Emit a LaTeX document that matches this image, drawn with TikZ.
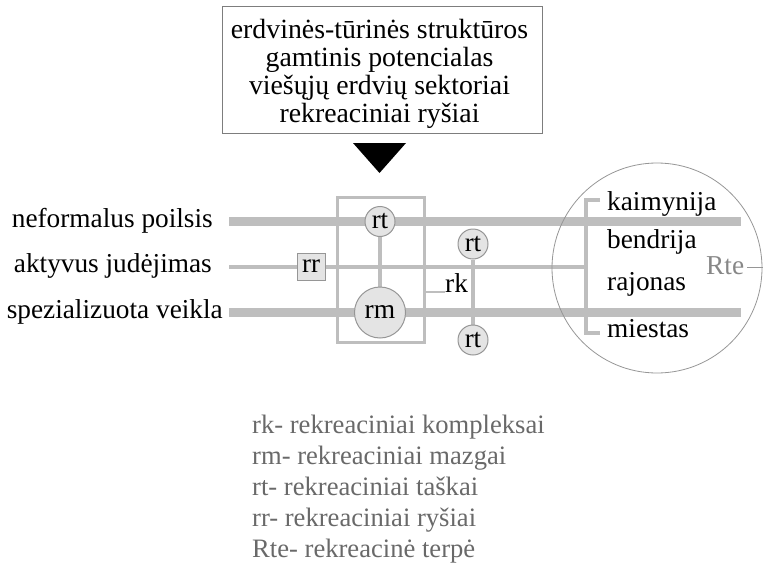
\documentclass[tikz,border=0pt]{standalone}
\usepackage{fontspec}
\setmainfont{Liberation Serif}
\usetikzlibrary{backgrounds}
\definecolor{lgray}{RGB}{190,190,190}
\definecolor{cfill}{RGB}{228,228,228}
\definecolor{cdraw}{RGB}{150,150,150}
\definecolor{boxdraw}{RGB}{125,125,125}
\definecolor{legendc}{RGB}{105,105,105}
\definecolor{rtec}{RGB}{135,135,135}
\begin{document}
\begin{tikzpicture}[x=1pt,y=-1pt,
  lab/.style={font=\fontsize{27.3}{28}\selectfont, inner sep=0pt, text height=19pt, text depth=6pt},
  legtext/.style={font=\fontsize{26.6}{26.6}\selectfont, inner sep=0pt, text=legendc, anchor=base west},
  thickline/.style={draw=lgray, line width=8.5pt},
  thinline/.style={draw=lgray, line width=3.5pt},
  rkline/.style={draw=lgray, line width=2pt},
  rtnode/.style={circle, draw=cdraw, line width=1pt, fill=cfill, minimum size=30pt, inner sep=0pt, font=\fontsize{27}{27}\selectfont},
  rmnode/.style={rtnode, minimum size=51pt, font=\fontsize{27.5}{27.5}\selectfont},
  rrnode/.style={rectangle, draw=cdraw, line width=0.8pt, fill=cfill, minimum width=28pt, minimum height=27pt, inner sep=0pt, font=\fontsize{27}{27}\selectfont},
  frame/.style={rectangle, draw=lgray, line width=3pt, minimum width=87pt, minimum height=145pt, inner sep=0pt},
  bigcircle/.style={circle, draw=cdraw, line width=0.8pt, minimum size=210pt, inner sep=0pt}
]
\useasboundingbox (0,0) rectangle (763,570);

% top box
\node[rectangle, draw=boxdraw, line width=1pt, minimum width=320pt, minimum height=127pt, inner sep=0pt] (box) at (382,70) {};
\node[font=\fontsize{27.8}{27.7}\selectfont, inner sep=0pt, align=center, anchor=north] (boxtext) at (379.5,19.5)
  {erdvinės-tūrinės struktūros\\gamtinis potencialas\\viešųjų erdvių sektoriai\\rekreaciniai ryšiai};
\fill[black] (353,143) -- (406,143) -- (379.5,173) -- cycle;

% left labels
\node[lab, anchor=base east] (nef) at (213,227) {neformalus poilsis};
\node[lab, anchor=base east] (akt) at (212,272) {aktyvus judėjimas};
\node[lab, anchor=base east] (spe) at (223,318) {spezializuota veikla};

% frame and nodes
\node[frame] (fr) at (380.5,269.5) {};
\node[rtnode] (rt1) at (380,221.5) {rt};
\node[rmnode] (rm) at (380,312.5) {rm};
\node[rtnode] (rt2) at (473,244) {rt};
\node[rtnode] (rt3) at (473,340) {rt};
\node[rrnode] (rr) at (311,266.5) {rr};
\node[lab, anchor=base west] (rk) at (445,292) {rk};

% right labels
\node[lab, anchor=base west] (kai) at (607,210) {kaimynija};
\node[lab, anchor=base west] (ben) at (607,248) {bendrija};
\node[lab, anchor=base west] (raj) at (607,290) {rajonas};
\node[lab, anchor=base west] (mie) at (607,337) {miestas};

% big circle and Rte
\node[bigcircle] (rte circle) at (657,268) {};
\node[lab, anchor=base west, text=rtec] (rte) at (706,274) {Rte};
\coordinate (rteend) at (763,267.5);
\draw[draw=cdraw, line width=0.8pt] ([xshift=3pt]rte.east) -- (rteend);

% coordinates of line ends
\coordinate (a0) at (229,221.5);
\coordinate (a1) at (741,221.5);
\coordinate (b0) at (229,267);
\coordinate (brk) at (586,267);
\coordinate (c0) at (229,312.5);
\coordinate (c1) at (741,312.5);
\coordinate (tk1) at (600,200);
\coordinate (tk2) at (600,333);

\begin{scope}[on background layer]
  \draw[thickline] (a0) -- (a1);
  \draw[thickline] (c0) -- (c1);
  \draw[thinline] (b0) -- (brk);
  \draw[thinline] (tk1) -| (brk) |- (tk2);
  \draw[thinline] (rt1.south) -- (rm.north);
  \draw[thinline] (rt2.south) -- (rt3.north);
  \draw[rkline] (rk.base west) -- (rk.base west -| fr.east);
\end{scope}

% legend
\node[legtext] (l1) at (252,433) {rk- rekreaciniai kompleksai};
\node[legtext] (l2) at (252,464) {rm- rekreaciniai mazgai};
\node[legtext] (l3) at (252,495) {rt- rekreaciniai taškai};
\node[legtext] (l4) at (252,526) {rr- rekreaciniai ryšiai};
\node[legtext] (l5) at (252,557) {Rte- rekreacinė terpė};
\end{tikzpicture}
\end{document}
